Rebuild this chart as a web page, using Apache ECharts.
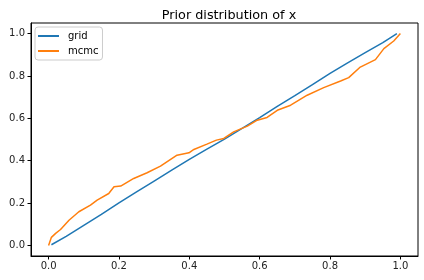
<!DOCTYPE html>
<html><head><meta charset="utf-8">
<script src="https://cdn.jsdelivr.net/npm/echarts@6/dist/echarts.min.js"></script>
<style>html,body{margin:0;padding:0;background:#fff}#c{width:424px;height:280px}</style>
</head><body><div id="c"></div>
<script>
var titleText = 'Prior distribution of x';
var seriesNames = ['grid', 'mcmc'];
var tickValues = [0, 0.2, 0.4, 0.6, 0.8, 1.0];
var gridX = [0.008, 0.05, 0.1, 0.15, 0.2, 0.25, 0.3, 0.35, 0.4, 0.45, 0.5, 0.55, 0.6, 0.65, 0.7, 0.75, 0.8, 0.85, 0.9, 0.95, 0.99];
var gridY = [0.003, 0.043, 0.095, 0.147, 0.201, 0.253, 0.304, 0.355, 0.406, 0.455, 0.502, 0.553, 0.603, 0.656, 0.707, 0.759, 0.812, 0.862, 0.91, 0.957, 1.0];
var mcmcX = [0.0, 0.008, 0.02, 0.034, 0.058, 0.086, 0.119, 0.138, 0.171, 0.186, 0.205, 0.242, 0.28, 0.318, 0.365, 0.399, 0.413, 0.45, 0.477, 0.498, 0.526, 0.565, 0.593, 0.621, 0.65, 0.688, 0.735, 0.782, 0.83, 0.853, 0.886, 0.929, 0.953, 0.981, 1.0];
var mcmcY = [0.0, 0.038, 0.057, 0.075, 0.119, 0.159, 0.19, 0.214, 0.245, 0.277, 0.28, 0.316, 0.343, 0.374, 0.426, 0.437, 0.453, 0.478, 0.497, 0.505, 0.536, 0.563, 0.591, 0.604, 0.638, 0.662, 0.709, 0.745, 0.776, 0.792, 0.842, 0.877, 0.929, 0.965, 1.0];

function pairs(xs, ys){ return xs.map(function(x,i){ return [x, ys[i]]; }); }
var font = 'DejaVu Sans';
var axisCommon = {
  type: 'value', min: -0.05, max: 1.05,
  axisLine: {show: true, onZero: false, lineStyle: {color: '#000', width: 1}},
  axisTick: {show: true, length: 3.5, customValues: tickValues, lineStyle: {color: '#000'}},
  axisLabel: {customValues: tickValues, fontFamily: font, fontSize: 10, color: '#222', margin: 5,
    formatter: function(v){ return v.toFixed(1); }},
  splitLine: {show: false}
};
var chart = echarts.init(document.getElementById('c'), null, {renderer: 'canvas'});
chart.setOption({
  animation: false,
  backgroundColor: '#fff',
  title: {text: titleText, left: 224, textAlign: 'center', top: 4,
    textStyle: {fontFamily: font, fontSize: 12.8, fontWeight: 'normal', color: '#000'}},
  grid: {left: 31, right: 6, top: 23, bottom: 24, show: true, borderColor: '#000', borderWidth: 1},
  xAxis: axisCommon,
  yAxis: Object.assign({}, axisCommon, {axisLabel: Object.assign({}, axisCommon.axisLabel, {margin: 6})}),
  legend: {orient: 'vertical', left: 35, top: 27, icon: 'rect', itemWidth: 21, itemHeight: 2, itemGap: 3,
    padding: [3, 4, 3, 3], borderColor: '#ccc', borderWidth: 1, borderRadius: 3,
    textStyle: {fontFamily: font, fontSize: 10, color: '#000', padding: [0, 0, 0, 4], lineHeight: 12},
    data: seriesNames},
  series: [
    {name: seriesNames[0], type: 'line', data: pairs(gridX, gridY), showSymbol: false, symbol: 'none',
      lineStyle: {color: '#1f77b4', width: 1.5}, itemStyle: {color: '#1f77b4'}},
    {name: seriesNames[1], type: 'line', data: pairs(mcmcX, mcmcY), showSymbol: false, symbol: 'none',
      lineStyle: {color: '#ff7f0e', width: 1.5}, itemStyle: {color: '#ff7f0e'}}
  ]
});
</script></body></html>
